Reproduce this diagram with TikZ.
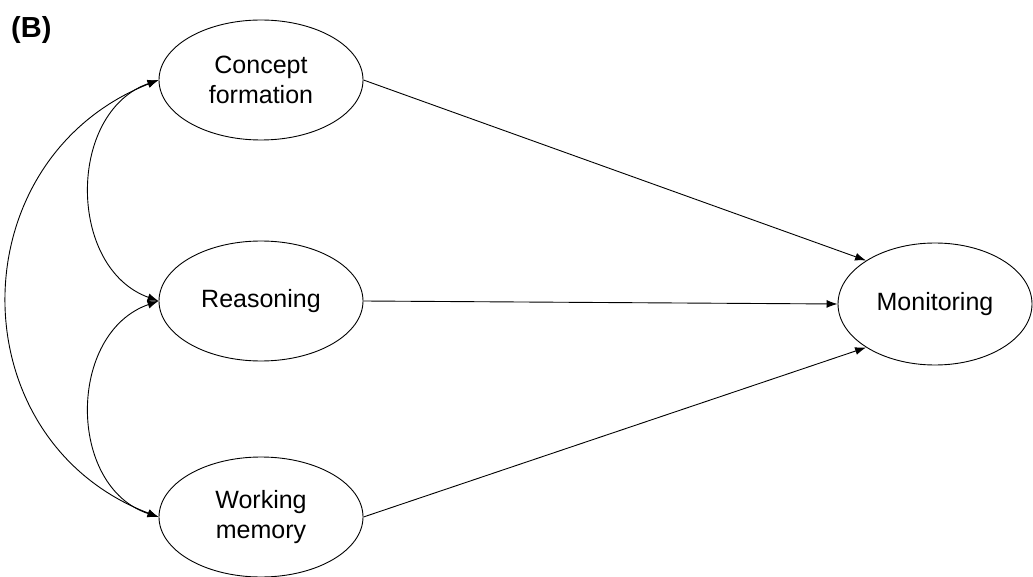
\documentclass[tikz,border=0pt]{standalone}
\usepackage{fontspec}
\setmainfont{Liberation Sans}
\usetikzlibrary{shapes.geometric,arrows.meta}
\begin{document}
\begin{tikzpicture}[x=1pt,y=-1pt,
  lat/.style={draw, ellipse, line width=0.9pt, minimum width=204pt, minimum height=120pt, inner sep=0pt, align=center, font=\fontsize{25}{29.5}\selectfont},
  conn/.style={line width=0.9pt, -{Latex[length=11pt,width=8pt]}},
  cov/.style={line width=0.9pt, {Latex[length=11pt,width=8pt]}-{Latex[length=11pt,width=8pt]}}]
\useasboundingbox (0,0) rectangle (1033,577);
\node[font=\bfseries\fontsize{29}{34}\selectfont, anchor=north west, inner sep=0pt] (lbl) at (11,16) {(B)};
\node[lat] (cf) at (261,80) {Concept\\formation};
\node[lat] (rs) at (261,301) {Reasoning};
\node[lat] (wm) at (261,517) {Working\\memory};
\node[lat, minimum width=194pt, minimum height=122pt] (mo) at (935,304) {Monitoring};
\draw[conn] (cf.east) -- (mo.north west);
\draw[conn] (rs.east) -- (mo.west);
\draw[conn] (wm.east) -- (mo.south west);
\draw[cov] (cf.west) .. controls (-43,160) and (-43,440) .. (wm.west);
\draw[cov] (cf.west) .. controls (67,112) and (67,268) .. (rs.west);
\draw[cov] (rs.west) .. controls (67,333) and (67,487) .. (wm.west);
\end{tikzpicture}
\end{document}
